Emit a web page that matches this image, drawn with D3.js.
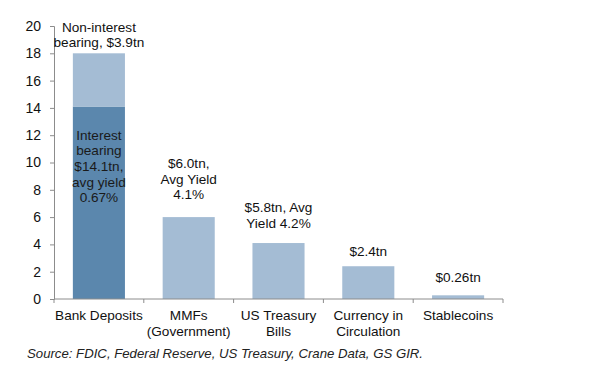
<!DOCTYPE html>
<meta charset="utf-8">
<head>
  <title>Cash-like assets</title>
  <style>
    body { margin: 0; background: #fff; }
    text { font-family: "Liberation Sans", Arial, sans-serif; }
  </style>
</head>
<body>
<div id="chart"></div>
<script src="https://d3js.org/d3.v7.min.js"></script>
<script>

// data ($tn)
var categories = ["Bank Deposits", "MMFs\n(Government)", "US Treasury\nBills", "Currency in\nCirculation", "Stablecoins"];
var interestBearing = [14.1, 0, 0, 0, 0];
var otherValues = [3.9, 6.0, 4.1, 2.4, 0.27];
var barLabels = ["Non-interest\nbearing, $3.9tn", "$6.0tn,\nAvg Yield\n4.1%", "$5.8tn, Avg\nYield 4.2%", "$2.4tn", "$0.26tn"];
var innerLabel = "Interest\nbearing\n$14.1tn,\navg yield\n0.67%";
var yTicks = [0, 2, 4, 6, 8, 10, 12, 14, 16, 18, 20];

// gap (px) between each bar top and the baseline of its label
var labelGaps = [6, 18, 15, 10, 13];

var width = 600, height = 382;
var margin = {top: 26, right: 97, bottom: 83, left: 54};
var fs = "13.6px";

var svg = d3.select("#chart").append("svg")
    .attr("width", width)
    .attr("height", height);

var x = d3.scaleBand()
    .domain(categories)
    .range([margin.left, width - margin.right])
    .paddingInner(0.42)
    .paddingOuter(0.21);

var y = d3.scaleLinear()
    .domain([0, 20])
    .range([height - margin.bottom, margin.top]);

// bars: dark bottom segment, light top segment
svg.append("g").selectAll("rect.dark")
  .data(categories)
  .enter().append("rect")
    .attr("x", function(d) { return x(d); })
    .attr("width", x.bandwidth())
    .attr("y", function(d, i) { return y(interestBearing[i]); })
    .attr("height", function(d, i) { return y(0) - y(interestBearing[i]); })
    .style("fill", "#5b87ad");

svg.append("g").selectAll("rect.light")
  .data(categories)
  .enter().append("rect")
    .attr("x", function(d) { return x(d); })
    .attr("width", x.bandwidth())
    .attr("y", function(d, i) { return y(interestBearing[i] + otherValues[i]); })
    .attr("height", function(d, i) { return y(interestBearing[i]) - y(interestBearing[i] + otherValues[i]); })
    .style("fill", "#a4bcd4");

// y axis
var yAxis = svg.append("g")
    .attr("transform", "translate(" + margin.left + ",0)")
    .call(d3.axisLeft(y).tickValues(yTicks).tickSize(4).tickPadding(9));
yAxis.select(".domain").attr("stroke", "#8c8c8c");
yAxis.selectAll(".tick line").attr("stroke", "#8c8c8c");
yAxis.selectAll(".tick text").style("font-size", "14px").attr("fill", "#111")
    .style("font-family", "Liberation Sans, Arial, sans-serif");

// x axis line with ticks at band edges
var x0 = margin.left, x1 = width - margin.right;
var step = (x1 - x0) / categories.length;
var xg = svg.append("g");
xg.append("line")
    .attr("x1", x0).attr("x2", x1)
    .attr("y1", y(0)).attr("y2", y(0))
    .attr("stroke", "#8c8c8c");
xg.selectAll("line.tk")
  .data(d3.range(categories.length + 1))
  .enter().append("line")
    .attr("x1", function(i) { return x0 + i * step; })
    .attr("x2", function(i) { return x0 + i * step; })
    .attr("y1", y(0)).attr("y2", y(0) + 4)
    .attr("stroke", "#8c8c8c");

// category labels
xg.selectAll("text")
  .data(categories)
  .enter().append("text")
    .attr("x", function(d) { return x(d) + x.bandwidth() / 2; })
    .attr("y", y(0) + 21)
    .attr("text-anchor", "middle")
    .style("font-size", fs)
    .attr("fill", "#111")
    .each(function(d) {
      var t = d3.select(this);
      d.split("\n").forEach(function(s, k) {
        t.append("tspan").attr("x", t.attr("x")).attr("dy", k ? 16 : 0).text(s);
      });
    });

// labels above bars
svg.append("g").selectAll("text")
  .data(categories)
  .enter().append("text")
    .attr("text-anchor", "middle")
    .style("font-size", fs)
    .attr("fill", "#111")
    .each(function(d, i) {
      var lines = barLabels[i].split("\n");
      var t = d3.select(this);
      var cx = x(d) + x.bandwidth() / 2;
      var base = y(interestBearing[i] + otherValues[i]) - labelGaps[i] - (lines.length - 1) * 15.6;
      lines.forEach(function(s, k) {
        t.append("tspan").attr("x", cx).attr("y", base + k * 15.6).text(s);
      });
    });

// label inside the dark segment
var inner = svg.append("text")
    .attr("text-anchor", "middle")
    .style("font-size", fs)
    .attr("fill", "#1a1a1a");
innerLabel.split("\n").forEach(function(s, k) {
  inner.append("tspan")
    .attr("x", x(categories[0]) + x.bandwidth() / 2)
    .attr("y", y(interestBearing[0]) + 33 + k * 15.7)
    .text(s);
});

// source
svg.append("text")
    .attr("x", 27)
    .attr("y", 358)
    .style("font-size", "13.2px")
    .style("font-style", "italic")
    .attr("fill", "#222")
    .text("Source: FDIC, Federal Reserve, US Treasury, Crane Data, GS GIR.");

</script>
</body>
</html>
